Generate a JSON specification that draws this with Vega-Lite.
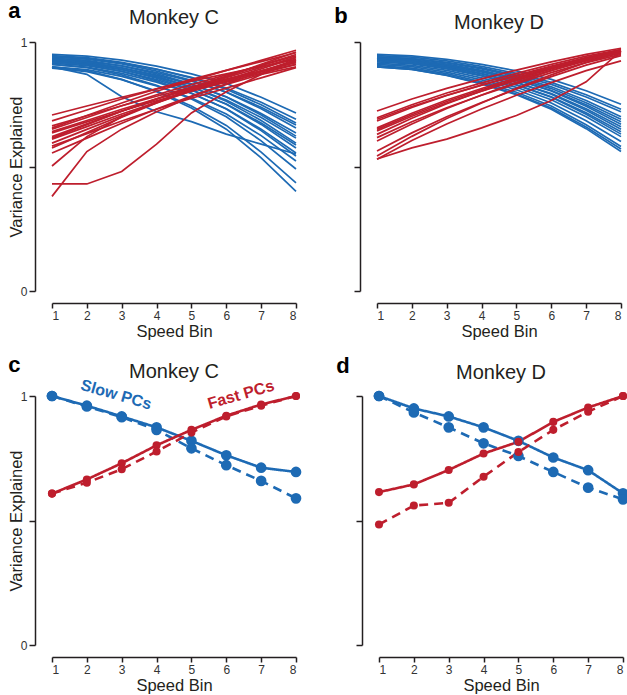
{
"$schema":"https://vega.github.io/schema/vega-lite/v6.json",
"padding":{"left":8,"top":0,"right":0,"bottom":0},
"config":{
 "font":"Liberation Sans",
 "view":{"stroke":null},
 "axis":{"grid":false,"domainColor":"#231f20","domainWidth":1.5,"tickColor":"#231f20","tickWidth":1.5,"tickSize":5,"labelFont":"Liberation Sans","labelFontSize":12,"labelColor":"#333333","titleFont":"Liberation Sans","titleFontSize":16.5,"titleFontWeight":"normal","titleColor":"#231f20"},
 "title":{"font":"Liberation Sans","fontSize":20,"fontWeight":"normal","color":"#231f20"}
},
"datasets":{
"A":[
{"l":"b1","g":"Slow","x":1,"v":0.95},{"l":"b1","g":"Slow","x":2,"v":0.943},{"l":"b1","g":"Slow","x":3,"v":0.927},{"l":"b1","g":"Slow","x":4,"v":0.903},{"l":"b1","g":"Slow","x":5,"v":0.872},{"l":"b1","g":"Slow","x":6,"v":0.833},{"l":"b1","g":"Slow","x":7,"v":0.778},{"l":"b1","g":"Slow","x":8,"v":0.715},
{"l":"b2","g":"Slow","x":1,"v":0.94},{"l":"b2","g":"Slow","x":2,"v":0.933},{"l":"b2","g":"Slow","x":3,"v":0.915},{"l":"b2","g":"Slow","x":4,"v":0.89},{"l":"b2","g":"Slow","x":5,"v":0.858},{"l":"b2","g":"Slow","x":6,"v":0.815},{"l":"b2","g":"Slow","x":7,"v":0.758},{"l":"b2","g":"Slow","x":8,"v":0.69},
{"l":"b3","g":"Slow","x":1,"v":0.945},{"l":"b3","g":"Slow","x":2,"v":0.937},{"l":"b3","g":"Slow","x":3,"v":0.918},{"l":"b3","g":"Slow","x":4,"v":0.891},{"l":"b3","g":"Slow","x":5,"v":0.856},{"l":"b3","g":"Slow","x":6,"v":0.81},{"l":"b3","g":"Slow","x":7,"v":0.748},{"l":"b3","g":"Slow","x":8,"v":0.675},
{"l":"b4","g":"Slow","x":1,"v":0.93},{"l":"b4","g":"Slow","x":2,"v":0.922},{"l":"b4","g":"Slow","x":3,"v":0.904},{"l":"b4","g":"Slow","x":4,"v":0.877},{"l":"b4","g":"Slow","x":5,"v":0.843},{"l":"b4","g":"Slow","x":6,"v":0.799},{"l":"b4","g":"Slow","x":7,"v":0.738},{"l":"b4","g":"Slow","x":8,"v":0.667},
{"l":"b5","g":"Slow","x":1,"v":0.94},{"l":"b5","g":"Slow","x":2,"v":0.931},{"l":"b5","g":"Slow","x":3,"v":0.912},{"l":"b5","g":"Slow","x":4,"v":0.883},{"l":"b5","g":"Slow","x":5,"v":0.846},{"l":"b5","g":"Slow","x":6,"v":0.798},{"l":"b5","g":"Slow","x":7,"v":0.732},{"l":"b5","g":"Slow","x":8,"v":0.655},
{"l":"b6","g":"Slow","x":1,"v":0.925},{"l":"b6","g":"Slow","x":2,"v":0.916},{"l":"b6","g":"Slow","x":3,"v":0.896},{"l":"b6","g":"Slow","x":4,"v":0.867},{"l":"b6","g":"Slow","x":5,"v":0.829},{"l":"b6","g":"Slow","x":6,"v":0.78},{"l":"b6","g":"Slow","x":7,"v":0.713},{"l":"b6","g":"Slow","x":8,"v":0.635},
{"l":"b7","g":"Slow","x":1,"v":0.935},{"l":"b7","g":"Slow","x":2,"v":0.926},{"l":"b7","g":"Slow","x":3,"v":0.904},{"l":"b7","g":"Slow","x":4,"v":0.872},{"l":"b7","g":"Slow","x":5,"v":0.832},{"l":"b7","g":"Slow","x":6,"v":0.779},{"l":"b7","g":"Slow","x":7,"v":0.707},{"l":"b7","g":"Slow","x":8,"v":0.622},
{"l":"b8","g":"Slow","x":1,"v":0.92},{"l":"b8","g":"Slow","x":2,"v":0.911},{"l":"b8","g":"Slow","x":3,"v":0.889},{"l":"b8","g":"Slow","x":4,"v":0.859},{"l":"b8","g":"Slow","x":5,"v":0.819},{"l":"b8","g":"Slow","x":6,"v":0.767},{"l":"b8","g":"Slow","x":7,"v":0.697},{"l":"b8","g":"Slow","x":8,"v":0.614},
{"l":"b9","g":"Slow","x":1,"v":0.93},{"l":"b9","g":"Slow","x":2,"v":0.92},{"l":"b9","g":"Slow","x":3,"v":0.896},{"l":"b9","g":"Slow","x":4,"v":0.863},{"l":"b9","g":"Slow","x":5,"v":0.819},{"l":"b9","g":"Slow","x":6,"v":0.762},{"l":"b9","g":"Slow","x":7,"v":0.685},{"l":"b9","g":"Slow","x":8,"v":0.594},
{"l":"b10","g":"Slow","x":1,"v":0.915},{"l":"b10","g":"Slow","x":2,"v":0.905},{"l":"b10","g":"Slow","x":3,"v":0.882},{"l":"b10","g":"Slow","x":4,"v":0.849},{"l":"b10","g":"Slow","x":5,"v":0.806},{"l":"b10","g":"Slow","x":6,"v":0.751},{"l":"b10","g":"Slow","x":7,"v":0.675},{"l":"b10","g":"Slow","x":8,"v":0.586},
{"l":"b11","g":"Slow","x":1,"v":0.925},{"l":"b11","g":"Slow","x":2,"v":0.914},{"l":"b11","g":"Slow","x":3,"v":0.89},{"l":"b11","g":"Slow","x":4,"v":0.855},{"l":"b11","g":"Slow","x":5,"v":0.809},{"l":"b11","g":"Slow","x":6,"v":0.75},{"l":"b11","g":"Slow","x":7,"v":0.669},{"l":"b11","g":"Slow","x":8,"v":0.574},
{"l":"b12","g":"Slow","x":1,"v":0.91},{"l":"b12","g":"Slow","x":2,"v":0.899},{"l":"b12","g":"Slow","x":3,"v":0.874},{"l":"b12","g":"Slow","x":4,"v":0.839},{"l":"b12","g":"Slow","x":5,"v":0.793},{"l":"b12","g":"Slow","x":6,"v":0.732},{"l":"b12","g":"Slow","x":7,"v":0.65},{"l":"b12","g":"Slow","x":8,"v":0.554},
{"l":"b13","g":"Slow","x":1,"v":0.92},{"l":"b13","g":"Slow","x":2,"v":0.909},{"l":"b13","g":"Slow","x":3,"v":0.882},{"l":"b13","g":"Slow","x":4,"v":0.844},{"l":"b13","g":"Slow","x":5,"v":0.795},{"l":"b13","g":"Slow","x":6,"v":0.731},{"l":"b13","g":"Slow","x":7,"v":0.644},{"l":"b13","g":"Slow","x":8,"v":0.542},
{"l":"b14","g":"Slow","x":1,"v":0.9},{"l":"b14","g":"Slow","x":2,"v":0.889},{"l":"b14","g":"Slow","x":3,"v":0.862},{"l":"b14","g":"Slow","x":4,"v":0.824},{"l":"b14","g":"Slow","x":5,"v":0.775},{"l":"b14","g":"Slow","x":6,"v":0.711},{"l":"b14","g":"Slow","x":7,"v":0.624},{"l":"b14","g":"Slow","x":8,"v":0.522},
{"l":"b15","g":"Slow","x":1,"v":0.91},{"l":"b15","g":"Slow","x":2,"v":0.897},{"l":"b15","g":"Slow","x":3,"v":0.868},{"l":"b15","g":"Slow","x":4,"v":0.826},{"l":"b15","g":"Slow","x":5,"v":0.771},{"l":"b15","g":"Slow","x":6,"v":0.7},{"l":"b15","g":"Slow","x":7,"v":0.603},{"l":"b15","g":"Slow","x":8,"v":0.49},
{"l":"b16","g":"Slow","x":1,"v":0.895},{"l":"b16","g":"Slow","x":2,"v":0.881},{"l":"b16","g":"Slow","x":3,"v":0.849},{"l":"b16","g":"Slow","x":4,"v":0.803},{"l":"b16","g":"Slow","x":5,"v":0.743},{"l":"b16","g":"Slow","x":6,"v":0.665},{"l":"b16","g":"Slow","x":7,"v":0.558},{"l":"b16","g":"Slow","x":8,"v":0.434},
{"l":"b17","g":"Slow","x":1,"v":0.9},{"l":"b17","g":"Slow","x":2,"v":0.885},{"l":"b17","g":"Slow","x":3,"v":0.85},{"l":"b17","g":"Slow","x":4,"v":0.8},{"l":"b17","g":"Slow","x":5,"v":0.735},{"l":"b17","g":"Slow","x":6,"v":0.65},{"l":"b17","g":"Slow","x":7,"v":0.535},{"l":"b17","g":"Slow","x":8,"v":0.4},
{"l":"b18","g":"Slow","x":1,"v":0.9},{"l":"b18","g":"Slow","x":2,"v":0.87},{"l":"b18","g":"Slow","x":3,"v":0.78},{"l":"b18","g":"Slow","x":4,"v":0.72},{"l":"b18","g":"Slow","x":5,"v":0.68},{"l":"b18","g":"Slow","x":6,"v":0.63},{"l":"b18","g":"Slow","x":7,"v":0.59},{"l":"b18","g":"Slow","x":8,"v":0.55},
{"l":"r1","g":"Fast","x":1,"v":0.707},{"l":"r1","g":"Fast","x":2,"v":0.743},{"l":"r1","g":"Fast","x":3,"v":0.778},{"l":"r1","g":"Fast","x":4,"v":0.812},{"l":"r1","g":"Fast","x":5,"v":0.843},{"l":"r1","g":"Fast","x":6,"v":0.872},{"l":"r1","g":"Fast","x":7,"v":0.901},{"l":"r1","g":"Fast","x":8,"v":0.93},
{"l":"r2","g":"Fast","x":1,"v":0.683},{"l":"r2","g":"Fast","x":2,"v":0.727},{"l":"r2","g":"Fast","x":3,"v":0.771},{"l":"r2","g":"Fast","x":4,"v":0.812},{"l":"r2","g":"Fast","x":5,"v":0.85},{"l":"r2","g":"Fast","x":6,"v":0.886},{"l":"r2","g":"Fast","x":7,"v":0.921},{"l":"r2","g":"Fast","x":8,"v":0.957},
{"l":"r3","g":"Fast","x":1,"v":0.663},{"l":"r3","g":"Fast","x":2,"v":0.704},{"l":"r3","g":"Fast","x":3,"v":0.744},{"l":"r3","g":"Fast","x":4,"v":0.782},{"l":"r3","g":"Fast","x":5,"v":0.818},{"l":"r3","g":"Fast","x":6,"v":0.851},{"l":"r3","g":"Fast","x":7,"v":0.884},{"l":"r3","g":"Fast","x":8,"v":0.917},
{"l":"r4","g":"Fast","x":1,"v":0.655},{"l":"r4","g":"Fast","x":2,"v":0.705},{"l":"r4","g":"Fast","x":3,"v":0.755},{"l":"r4","g":"Fast","x":4,"v":0.802},{"l":"r4","g":"Fast","x":5,"v":0.845},{"l":"r4","g":"Fast","x":6,"v":0.886},{"l":"r4","g":"Fast","x":7,"v":0.926},{"l":"r4","g":"Fast","x":8,"v":0.967},
{"l":"r5","g":"Fast","x":1,"v":0.65},{"l":"r5","g":"Fast","x":2,"v":0.697},{"l":"r5","g":"Fast","x":3,"v":0.744},{"l":"r5","g":"Fast","x":4,"v":0.788},{"l":"r5","g":"Fast","x":5,"v":0.829},{"l":"r5","g":"Fast","x":6,"v":0.868},{"l":"r5","g":"Fast","x":7,"v":0.906},{"l":"r5","g":"Fast","x":8,"v":0.944},
{"l":"r6","g":"Fast","x":1,"v":0.635},{"l":"r6","g":"Fast","x":2,"v":0.679},{"l":"r6","g":"Fast","x":3,"v":0.723},{"l":"r6","g":"Fast","x":4,"v":0.764},{"l":"r6","g":"Fast","x":5,"v":0.803},{"l":"r6","g":"Fast","x":6,"v":0.839},{"l":"r6","g":"Fast","x":7,"v":0.874},{"l":"r6","g":"Fast","x":8,"v":0.91},
{"l":"r7","g":"Fast","x":1,"v":0.614},{"l":"r7","g":"Fast","x":2,"v":0.668},{"l":"r7","g":"Fast","x":3,"v":0.722},{"l":"r7","g":"Fast","x":4,"v":0.772},{"l":"r7","g":"Fast","x":5,"v":0.819},{"l":"r7","g":"Fast","x":6,"v":0.863},{"l":"r7","g":"Fast","x":7,"v":0.906},{"l":"r7","g":"Fast","x":8,"v":0.95},
{"l":"r8","g":"Fast","x":1,"v":0.61},{"l":"r8","g":"Fast","x":2,"v":0.66},{"l":"r8","g":"Fast","x":3,"v":0.711},{"l":"r8","g":"Fast","x":4,"v":0.758},{"l":"r8","g":"Fast","x":5,"v":0.802},{"l":"r8","g":"Fast","x":6,"v":0.842},{"l":"r8","g":"Fast","x":7,"v":0.883},{"l":"r8","g":"Fast","x":8,"v":0.924},
{"l":"r9","g":"Fast","x":1,"v":0.594},{"l":"r9","g":"Fast","x":2,"v":0.649},{"l":"r9","g":"Fast","x":3,"v":0.704},{"l":"r9","g":"Fast","x":4,"v":0.755},{"l":"r9","g":"Fast","x":5,"v":0.803},{"l":"r9","g":"Fast","x":6,"v":0.848},{"l":"r9","g":"Fast","x":7,"v":0.892},{"l":"r9","g":"Fast","x":8,"v":0.937},
{"l":"r10","g":"Fast","x":1,"v":0.582},{"l":"r10","g":"Fast","x":2,"v":0.632},{"l":"r10","g":"Fast","x":3,"v":0.683},{"l":"r10","g":"Fast","x":4,"v":0.73},{"l":"r10","g":"Fast","x":5,"v":0.774},{"l":"r10","g":"Fast","x":6,"v":0.815},{"l":"r10","g":"Fast","x":7,"v":0.856},{"l":"r10","g":"Fast","x":8,"v":0.897},
{"l":"r11","g":"Fast","x":1,"v":0.574},{"l":"r11","g":"Fast","x":2,"v":0.636},{"l":"r11","g":"Fast","x":3,"v":0.698},{"l":"r11","g":"Fast","x":4,"v":0.755},{"l":"r11","g":"Fast","x":5,"v":0.809},{"l":"r11","g":"Fast","x":6,"v":0.86},{"l":"r11","g":"Fast","x":7,"v":0.91},{"l":"r11","g":"Fast","x":8,"v":0.96},
{"l":"r12","g":"Fast","x":1,"v":0.554},{"l":"r12","g":"Fast","x":2,"v":0.614},{"l":"r12","g":"Fast","x":3,"v":0.674},{"l":"r12","g":"Fast","x":4,"v":0.731},{"l":"r12","g":"Fast","x":5,"v":0.783},{"l":"r12","g":"Fast","x":6,"v":0.832},{"l":"r12","g":"Fast","x":7,"v":0.881},{"l":"r12","g":"Fast","x":8,"v":0.93},
{"l":"r13","g":"Fast","x":1,"v":0.502},{"l":"r13","g":"Fast","x":2,"v":0.62},{"l":"r13","g":"Fast","x":3,"v":0.7},{"l":"r13","g":"Fast","x":4,"v":0.76},{"l":"r13","g":"Fast","x":5,"v":0.81},{"l":"r13","g":"Fast","x":6,"v":0.85},{"l":"r13","g":"Fast","x":7,"v":0.88},{"l":"r13","g":"Fast","x":8,"v":0.91},
{"l":"r14","g":"Fast","x":1,"v":0.43},{"l":"r14","g":"Fast","x":2,"v":0.43},{"l":"r14","g":"Fast","x":3,"v":0.48},{"l":"r14","g":"Fast","x":4,"v":0.59},{"l":"r14","g":"Fast","x":5,"v":0.715},{"l":"r14","g":"Fast","x":6,"v":0.8},{"l":"r14","g":"Fast","x":7,"v":0.87},{"l":"r14","g":"Fast","x":8,"v":0.93},
{"l":"r15","g":"Fast","x":1,"v":0.38},{"l":"r15","g":"Fast","x":2,"v":0.56},{"l":"r15","g":"Fast","x":3,"v":0.65},{"l":"r15","g":"Fast","x":4,"v":0.72},{"l":"r15","g":"Fast","x":5,"v":0.78},{"l":"r15","g":"Fast","x":6,"v":0.83},{"l":"r15","g":"Fast","x":7,"v":0.87},{"l":"r15","g":"Fast","x":8,"v":0.9},
{"l":"r16","g":"Fast","x":1,"v":0.62},{"l":"r16","g":"Fast","x":2,"v":0.671},{"l":"r16","g":"Fast","x":3,"v":0.722},{"l":"r16","g":"Fast","x":4,"v":0.77},{"l":"r16","g":"Fast","x":5,"v":0.815},{"l":"r16","g":"Fast","x":6,"v":0.857},{"l":"r16","g":"Fast","x":7,"v":0.898},{"l":"r16","g":"Fast","x":8,"v":0.94},
{"l":"r17","g":"Fast","x":1,"v":0.64},{"l":"r17","g":"Fast","x":2,"v":0.685},{"l":"r17","g":"Fast","x":3,"v":0.73},{"l":"r17","g":"Fast","x":4,"v":0.772},{"l":"r17","g":"Fast","x":5,"v":0.811},{"l":"r17","g":"Fast","x":6,"v":0.847},{"l":"r17","g":"Fast","x":7,"v":0.884},{"l":"r17","g":"Fast","x":8,"v":0.92}
],
"B":[
{"l":"b1","g":"Slow","x":1,"v":0.95},{"l":"b1","g":"Slow","x":2,"v":0.944},{"l":"b1","g":"Slow","x":3,"v":0.93},{"l":"b1","g":"Slow","x":4,"v":0.91},{"l":"b1","g":"Slow","x":5,"v":0.884},{"l":"b1","g":"Slow","x":6,"v":0.85},{"l":"b1","g":"Slow","x":7,"v":0.804},{"l":"b1","g":"Slow","x":8,"v":0.75},
{"l":"b2","g":"Slow","x":1,"v":0.945},{"l":"b2","g":"Slow","x":2,"v":0.939},{"l":"b2","g":"Slow","x":3,"v":0.924},{"l":"b2","g":"Slow","x":4,"v":0.902},{"l":"b2","g":"Slow","x":5,"v":0.874},{"l":"b2","g":"Slow","x":6,"v":0.838},{"l":"b2","g":"Slow","x":7,"v":0.788},{"l":"b2","g":"Slow","x":8,"v":0.73},
{"l":"b3","g":"Slow","x":1,"v":0.94},{"l":"b3","g":"Slow","x":2,"v":0.933},{"l":"b3","g":"Slow","x":3,"v":0.918},{"l":"b3","g":"Slow","x":4,"v":0.896},{"l":"b3","g":"Slow","x":5,"v":0.867},{"l":"b3","g":"Slow","x":6,"v":0.83},{"l":"b3","g":"Slow","x":7,"v":0.779},{"l":"b3","g":"Slow","x":8,"v":0.72},
{"l":"b4","g":"Slow","x":1,"v":0.94},{"l":"b4","g":"Slow","x":2,"v":0.933},{"l":"b4","g":"Slow","x":3,"v":0.916},{"l":"b4","g":"Slow","x":4,"v":0.892},{"l":"b4","g":"Slow","x":5,"v":0.861},{"l":"b4","g":"Slow","x":6,"v":0.82},{"l":"b4","g":"Slow","x":7,"v":0.765},{"l":"b4","g":"Slow","x":8,"v":0.7},
{"l":"b5","g":"Slow","x":1,"v":0.935},{"l":"b5","g":"Slow","x":2,"v":0.928},{"l":"b5","g":"Slow","x":3,"v":0.911},{"l":"b5","g":"Slow","x":4,"v":0.886},{"l":"b5","g":"Slow","x":5,"v":0.854},{"l":"b5","g":"Slow","x":6,"v":0.813},{"l":"b5","g":"Slow","x":7,"v":0.756},{"l":"b5","g":"Slow","x":8,"v":0.69},
{"l":"b6","g":"Slow","x":1,"v":0.93},{"l":"b6","g":"Slow","x":2,"v":0.923},{"l":"b6","g":"Slow","x":3,"v":0.905},{"l":"b6","g":"Slow","x":4,"v":0.88},{"l":"b6","g":"Slow","x":5,"v":0.848},{"l":"b6","g":"Slow","x":6,"v":0.805},{"l":"b6","g":"Slow","x":7,"v":0.748},{"l":"b6","g":"Slow","x":8,"v":0.68},
{"l":"b7","g":"Slow","x":1,"v":0.935},{"l":"b7","g":"Slow","x":2,"v":0.927},{"l":"b7","g":"Slow","x":3,"v":0.909},{"l":"b7","g":"Slow","x":4,"v":0.882},{"l":"b7","g":"Slow","x":5,"v":0.848},{"l":"b7","g":"Slow","x":6,"v":0.803},{"l":"b7","g":"Slow","x":7,"v":0.742},{"l":"b7","g":"Slow","x":8,"v":0.67},
{"l":"b8","g":"Slow","x":1,"v":0.925},{"l":"b8","g":"Slow","x":2,"v":0.917},{"l":"b8","g":"Slow","x":3,"v":0.899},{"l":"b8","g":"Slow","x":4,"v":0.872},{"l":"b8","g":"Slow","x":5,"v":0.838},{"l":"b8","g":"Slow","x":6,"v":0.793},{"l":"b8","g":"Slow","x":7,"v":0.732},{"l":"b8","g":"Slow","x":8,"v":0.66},
{"l":"b9","g":"Slow","x":1,"v":0.93},{"l":"b9","g":"Slow","x":2,"v":0.922},{"l":"b9","g":"Slow","x":3,"v":0.902},{"l":"b9","g":"Slow","x":4,"v":0.874},{"l":"b9","g":"Slow","x":5,"v":0.838},{"l":"b9","g":"Slow","x":6,"v":0.79},{"l":"b9","g":"Slow","x":7,"v":0.726},{"l":"b9","g":"Slow","x":8,"v":0.65},
{"l":"b10","g":"Slow","x":1,"v":0.92},{"l":"b10","g":"Slow","x":2,"v":0.912},{"l":"b10","g":"Slow","x":3,"v":0.892},{"l":"b10","g":"Slow","x":4,"v":0.864},{"l":"b10","g":"Slow","x":5,"v":0.828},{"l":"b10","g":"Slow","x":6,"v":0.78},{"l":"b10","g":"Slow","x":7,"v":0.716},{"l":"b10","g":"Slow","x":8,"v":0.64},
{"l":"b11","g":"Slow","x":1,"v":0.925},{"l":"b11","g":"Slow","x":2,"v":0.916},{"l":"b11","g":"Slow","x":3,"v":0.896},{"l":"b11","g":"Slow","x":4,"v":0.866},{"l":"b11","g":"Slow","x":5,"v":0.828},{"l":"b11","g":"Slow","x":6,"v":0.778},{"l":"b11","g":"Slow","x":7,"v":0.71},{"l":"b11","g":"Slow","x":8,"v":0.63},
{"l":"b12","g":"Slow","x":1,"v":0.915},{"l":"b12","g":"Slow","x":2,"v":0.906},{"l":"b12","g":"Slow","x":3,"v":0.886},{"l":"b12","g":"Slow","x":4,"v":0.856},{"l":"b12","g":"Slow","x":5,"v":0.818},{"l":"b12","g":"Slow","x":6,"v":0.768},{"l":"b12","g":"Slow","x":7,"v":0.7},{"l":"b12","g":"Slow","x":8,"v":0.62},
{"l":"b13","g":"Slow","x":1,"v":0.91},{"l":"b13","g":"Slow","x":2,"v":0.901},{"l":"b13","g":"Slow","x":3,"v":0.879},{"l":"b13","g":"Slow","x":4,"v":0.848},{"l":"b13","g":"Slow","x":5,"v":0.808},{"l":"b13","g":"Slow","x":6,"v":0.755},{"l":"b13","g":"Slow","x":7,"v":0.684},{"l":"b13","g":"Slow","x":8,"v":0.6},
{"l":"b14","g":"Slow","x":1,"v":0.905},{"l":"b14","g":"Slow","x":2,"v":0.895},{"l":"b14","g":"Slow","x":3,"v":0.873},{"l":"b14","g":"Slow","x":4,"v":0.84},{"l":"b14","g":"Slow","x":5,"v":0.798},{"l":"b14","g":"Slow","x":6,"v":0.743},{"l":"b14","g":"Slow","x":7,"v":0.668},{"l":"b14","g":"Slow","x":8,"v":0.58},
{"l":"b15","g":"Slow","x":1,"v":0.9},{"l":"b15","g":"Slow","x":2,"v":0.89},{"l":"b15","g":"Slow","x":3,"v":0.867},{"l":"b15","g":"Slow","x":4,"v":0.834},{"l":"b15","g":"Slow","x":5,"v":0.791},{"l":"b15","g":"Slow","x":6,"v":0.735},{"l":"b15","g":"Slow","x":7,"v":0.659},{"l":"b15","g":"Slow","x":8,"v":0.57},
{"l":"b16","g":"Slow","x":1,"v":0.9},{"l":"b16","g":"Slow","x":2,"v":0.89},{"l":"b16","g":"Slow","x":3,"v":0.866},{"l":"b16","g":"Slow","x":4,"v":0.832},{"l":"b16","g":"Slow","x":5,"v":0.788},{"l":"b16","g":"Slow","x":6,"v":0.73},{"l":"b16","g":"Slow","x":7,"v":0.652},{"l":"b16","g":"Slow","x":8,"v":0.56},
{"l":"r1","g":"Fast","x":1,"v":0.723},{"l":"r1","g":"Fast","x":2,"v":0.771},{"l":"r1","g":"Fast","x":3,"v":0.814},{"l":"r1","g":"Fast","x":4,"v":0.852},{"l":"r1","g":"Fast","x":5,"v":0.887},{"l":"r1","g":"Fast","x":6,"v":0.92},{"l":"r1","g":"Fast","x":7,"v":0.95},{"l":"r1","g":"Fast","x":8,"v":0.975},
{"l":"r2","g":"Fast","x":1,"v":0.696},{"l":"r2","g":"Fast","x":2,"v":0.748},{"l":"r2","g":"Fast","x":3,"v":0.795},{"l":"r2","g":"Fast","x":4,"v":0.836},{"l":"r2","g":"Fast","x":5,"v":0.874},{"l":"r2","g":"Fast","x":6,"v":0.91},{"l":"r2","g":"Fast","x":7,"v":0.943},{"l":"r2","g":"Fast","x":8,"v":0.97},
{"l":"r3","g":"Fast","x":1,"v":0.683},{"l":"r3","g":"Fast","x":2,"v":0.737},{"l":"r3","g":"Fast","x":3,"v":0.785},{"l":"r3","g":"Fast","x":4,"v":0.827},{"l":"r3","g":"Fast","x":5,"v":0.866},{"l":"r3","g":"Fast","x":6,"v":0.903},{"l":"r3","g":"Fast","x":7,"v":0.937},{"l":"r3","g":"Fast","x":8,"v":0.965},
{"l":"r4","g":"Fast","x":1,"v":0.649},{"l":"r4","g":"Fast","x":2,"v":0.708},{"l":"r4","g":"Fast","x":3,"v":0.761},{"l":"r4","g":"Fast","x":4,"v":0.808},{"l":"r4","g":"Fast","x":5,"v":0.851},{"l":"r4","g":"Fast","x":6,"v":0.892},{"l":"r4","g":"Fast","x":7,"v":0.929},{"l":"r4","g":"Fast","x":8,"v":0.96},
{"l":"r5","g":"Fast","x":1,"v":0.643},{"l":"r5","g":"Fast","x":2,"v":0.702},{"l":"r5","g":"Fast","x":3,"v":0.755},{"l":"r5","g":"Fast","x":4,"v":0.802},{"l":"r5","g":"Fast","x":5,"v":0.846},{"l":"r5","g":"Fast","x":6,"v":0.886},{"l":"r5","g":"Fast","x":7,"v":0.924},{"l":"r5","g":"Fast","x":8,"v":0.955},
{"l":"r6","g":"Fast","x":1,"v":0.629},{"l":"r6","g":"Fast","x":2,"v":0.694},{"l":"r6","g":"Fast","x":3,"v":0.752},{"l":"r6","g":"Fast","x":4,"v":0.803},{"l":"r6","g":"Fast","x":5,"v":0.851},{"l":"r6","g":"Fast","x":6,"v":0.895},{"l":"r6","g":"Fast","x":7,"v":0.936},{"l":"r6","g":"Fast","x":8,"v":0.97},
{"l":"r7","g":"Fast","x":1,"v":0.616},{"l":"r7","g":"Fast","x":2,"v":0.68},{"l":"r7","g":"Fast","x":3,"v":0.736},{"l":"r7","g":"Fast","x":4,"v":0.786},{"l":"r7","g":"Fast","x":5,"v":0.833},{"l":"r7","g":"Fast","x":6,"v":0.877},{"l":"r7","g":"Fast","x":7,"v":0.917},{"l":"r7","g":"Fast","x":8,"v":0.95},
{"l":"r8","g":"Fast","x":1,"v":0.602},{"l":"r8","g":"Fast","x":2,"v":0.671},{"l":"r8","g":"Fast","x":3,"v":0.733},{"l":"r8","g":"Fast","x":4,"v":0.787},{"l":"r8","g":"Fast","x":5,"v":0.838},{"l":"r8","g":"Fast","x":6,"v":0.885},{"l":"r8","g":"Fast","x":7,"v":0.929},{"l":"r8","g":"Fast","x":8,"v":0.965},
{"l":"r9","g":"Fast","x":1,"v":0.562},{"l":"r9","g":"Fast","x":2,"v":0.635},{"l":"r9","g":"Fast","x":3,"v":0.7},{"l":"r9","g":"Fast","x":4,"v":0.757},{"l":"r9","g":"Fast","x":5,"v":0.811},{"l":"r9","g":"Fast","x":6,"v":0.861},{"l":"r9","g":"Fast","x":7,"v":0.907},{"l":"r9","g":"Fast","x":8,"v":0.945},
{"l":"r10","g":"Fast","x":1,"v":0.542},{"l":"r10","g":"Fast","x":2,"v":0.621},{"l":"r10","g":"Fast","x":3,"v":0.693},{"l":"r10","g":"Fast","x":4,"v":0.755},{"l":"r10","g":"Fast","x":5,"v":0.814},{"l":"r10","g":"Fast","x":6,"v":0.868},{"l":"r10","g":"Fast","x":7,"v":0.918},{"l":"r10","g":"Fast","x":8,"v":0.96},
{"l":"r11","g":"Fast","x":1,"v":0.529},{"l":"r11","g":"Fast","x":2,"v":0.604},{"l":"r11","g":"Fast","x":3,"v":0.671},{"l":"r11","g":"Fast","x":4,"v":0.731},{"l":"r11","g":"Fast","x":5,"v":0.786},{"l":"r11","g":"Fast","x":6,"v":0.837},{"l":"r11","g":"Fast","x":7,"v":0.885},{"l":"r11","g":"Fast","x":8,"v":0.924},
{"l":"r12","g":"Fast","x":1,"v":0.53},{"l":"r12","g":"Fast","x":2,"v":0.575},{"l":"r12","g":"Fast","x":3,"v":0.61},{"l":"r12","g":"Fast","x":4,"v":0.655},{"l":"r12","g":"Fast","x":5,"v":0.705},{"l":"r12","g":"Fast","x":6,"v":0.765},{"l":"r12","g":"Fast","x":7,"v":0.84},{"l":"r12","g":"Fast","x":8,"v":0.965},
{"l":"r13","g":"Fast","x":1,"v":0.655},{"l":"r13","g":"Fast","x":2,"v":0.714},{"l":"r13","g":"Fast","x":3,"v":0.767},{"l":"r13","g":"Fast","x":4,"v":0.813},{"l":"r13","g":"Fast","x":5,"v":0.857},{"l":"r13","g":"Fast","x":6,"v":0.897},{"l":"r13","g":"Fast","x":7,"v":0.934},{"l":"r13","g":"Fast","x":8,"v":0.965},
{"l":"r14","g":"Fast","x":1,"v":0.69},{"l":"r14","g":"Fast","x":2,"v":0.741},{"l":"r14","g":"Fast","x":3,"v":0.786},{"l":"r14","g":"Fast","x":4,"v":0.827},{"l":"r14","g":"Fast","x":5,"v":0.864},{"l":"r14","g":"Fast","x":6,"v":0.899},{"l":"r14","g":"Fast","x":7,"v":0.931},{"l":"r14","g":"Fast","x":8,"v":0.958}
],
"C":[
{"g":"Slow","t":"solid","x":1,"v":1.0},{"g":"Slow","t":"solid","x":2,"v":0.961},{"g":"Slow","t":"solid","x":3,"v":0.918},{"g":"Slow","t":"solid","x":4,"v":0.874},{"g":"Slow","t":"solid","x":5,"v":0.82},{"g":"Slow","t":"solid","x":6,"v":0.762},{"g":"Slow","t":"solid","x":7,"v":0.712},{"g":"Slow","t":"solid","x":8,"v":0.695},
{"g":"Slow","t":"dashed","x":1,"v":1.0},{"g":"Slow","t":"dashed","x":2,"v":0.958},{"g":"Slow","t":"dashed","x":3,"v":0.915},{"g":"Slow","t":"dashed","x":4,"v":0.864},{"g":"Slow","t":"dashed","x":5,"v":0.79},{"g":"Slow","t":"dashed","x":6,"v":0.722},{"g":"Slow","t":"dashed","x":7,"v":0.659},{"g":"Slow","t":"dashed","x":8,"v":0.589},
{"g":"Fast","t":"solid","x":1,"v":0.608},{"g":"Fast","t":"solid","x":2,"v":0.665},{"g":"Fast","t":"solid","x":3,"v":0.73},{"g":"Fast","t":"solid","x":4,"v":0.802},{"g":"Fast","t":"solid","x":5,"v":0.864},{"g":"Fast","t":"solid","x":6,"v":0.921},{"g":"Fast","t":"solid","x":7,"v":0.966},{"g":"Fast","t":"solid","x":8,"v":1.0},
{"g":"Fast","t":"dashed","x":1,"v":0.608},{"g":"Fast","t":"dashed","x":2,"v":0.652},{"g":"Fast","t":"dashed","x":3,"v":0.706},{"g":"Fast","t":"dashed","x":4,"v":0.777},{"g":"Fast","t":"dashed","x":5,"v":0.853},{"g":"Fast","t":"dashed","x":6,"v":0.918},{"g":"Fast","t":"dashed","x":7,"v":0.961},{"g":"Fast","t":"dashed","x":8,"v":1.0}
],
"D":[
{"g":"Slow","t":"solid","x":1,"v":1.0},{"g":"Slow","t":"solid","x":2,"v":0.95},{"g":"Slow","t":"solid","x":3,"v":0.918},{"g":"Slow","t":"solid","x":4,"v":0.874},{"g":"Slow","t":"solid","x":5,"v":0.82},{"g":"Slow","t":"solid","x":6,"v":0.753},{"g":"Slow","t":"solid","x":7,"v":0.702},{"g":"Slow","t":"solid","x":8,"v":0.609},
{"g":"Slow","t":"dashed","x":1,"v":1.0},{"g":"Slow","t":"dashed","x":2,"v":0.934},{"g":"Slow","t":"dashed","x":3,"v":0.874},{"g":"Slow","t":"dashed","x":4,"v":0.81},{"g":"Slow","t":"dashed","x":5,"v":0.759},{"g":"Slow","t":"dashed","x":6,"v":0.695},{"g":"Slow","t":"dashed","x":7,"v":0.632},{"g":"Slow","t":"dashed","x":8,"v":0.585},
{"g":"Fast","t":"solid","x":1,"v":0.614},{"g":"Fast","t":"solid","x":2,"v":0.645},{"g":"Fast","t":"solid","x":3,"v":0.703},{"g":"Fast","t":"solid","x":4,"v":0.769},{"g":"Fast","t":"solid","x":5,"v":0.816},{"g":"Fast","t":"solid","x":6,"v":0.896},{"g":"Fast","t":"solid","x":7,"v":0.954},{"g":"Fast","t":"solid","x":8,"v":1.0},
{"g":"Fast","t":"dashed","x":1,"v":0.484},{"g":"Fast","t":"dashed","x":2,"v":0.56},{"g":"Fast","t":"dashed","x":3,"v":0.571},{"g":"Fast","t":"dashed","x":4,"v":0.676},{"g":"Fast","t":"dashed","x":5,"v":0.775},{"g":"Fast","t":"dashed","x":6,"v":0.864},{"g":"Fast","t":"dashed","x":7,"v":0.937},{"g":"Fast","t":"dashed","x":8,"v":1.0}
],
"L":[
{"g":"Slow","x":2.84,"v":1.005,"txt":"Slow PCs","a":16},
{"g":"Fast","x":6.42,"v":1.005,"txt":"Fast PCs","a":-16}
]
},
"spacing":14,
"vconcat":[
{"spacing":34,"hconcat":[
 {"title":{"text":"a","anchor":"start","fontSize":22,"fontWeight":"bold","color":"#000000","dy":19},
  "vconcat":[{
   "title":{"text":"Monkey C","offset":8},
   "width":244,"height":249,
   "data":{"name":"A"},
   "mark":{"type":"line","strokeWidth":1.7},
   "encoding":{
    "x":{"field":"x","type":"quantitative","scale":{"domain":[1,8]},"axis":{"values":[1,2,3,4,5,6,7,8],"offset":12,"labelAngle":0,"title":"Speed Bin","titlePadding":2,"format":"d"}},
    "y":{"field":"v","type":"quantitative","scale":{"domain":[0,1]},"axis":{"values":[0,0.5,1],"labelExpr":"datum.value == 1 ? '1' : datum.value == 0 ? '0' : ''","offset":17,"tickSize":6,"title":"Variance Explained","titlePadding":-4}},
    "color":{"field":"g","type":"nominal","scale":{"domain":["Slow","Fast"],"range":["#1d6ab4","#be1e2d"]},"legend":null},
    "detail":{"field":"l"},
    "order":{"field":"x"}
   }
  }]
 },
 {"title":{"text":"b","anchor":"start","fontSize":22,"fontWeight":"bold","color":"#000000","dy":19,"dx":-19},
  "vconcat":[{
   "title":{"text":"Monkey D","offset":8},
   "width":244,"height":249,
   "data":{"name":"B"},
   "mark":{"type":"line","strokeWidth":1.7},
   "encoding":{
    "x":{"field":"x","type":"quantitative","scale":{"domain":[1,8]},"axis":{"values":[1,2,3,4,5,6,7,8],"offset":12,"labelAngle":0,"title":"Speed Bin","titlePadding":2,"format":"d"}},
    "y":{"field":"v","type":"quantitative","scale":{"domain":[0,1]},"axis":{"values":[0,0.5,1],"labels":false,"offset":17,"tickSize":6,"title":null}},
    "color":{"field":"g","type":"nominal","scale":{"domain":["Slow","Fast"],"range":["#1d6ab4","#be1e2d"]},"legend":null},
    "detail":{"field":"l"},
    "order":{"field":"x"}
   }
  }]
 }
]},
{"spacing":34,"hconcat":[
 {"title":{"text":"c","anchor":"start","fontSize":22,"fontWeight":"bold","color":"#000000","dy":19},
  "vconcat":[{
   "title":{"text":"Monkey C","offset":-5},
   "width":244,"height":249,
   "encoding":{
    "x":{"field":"x","type":"quantitative","scale":{"domain":[1,8]},"axis":{"values":[1,2,3,4,5,6,7,8],"offset":12,"labelAngle":0,"title":"Speed Bin","titlePadding":2,"format":"d"}},
    "y":{"field":"v","type":"quantitative","scale":{"domain":[0,1]},"axis":{"values":[0,0.5,1],"labelExpr":"datum.value == 1 ? '1' : datum.value == 0 ? '0' : ''","offset":17,"tickSize":6,"title":"Variance Explained","titlePadding":-4}},
    "color":{"field":"g","type":"nominal","scale":{"domain":["Slow","Fast"],"range":["#1d6ab4","#be1e2d"]},"legend":null}
   },
   "layer":[
    {"data":{"name":"C"},"mark":{"type":"line","strokeWidth":2.6},"encoding":{"strokeDash":{"field":"t","type":"nominal","scale":{"domain":["solid","dashed"],"range":[[1,0],[9,6]]},"legend":null},"order":{"field":"x"}}},
    {"data":{"name":"C"},"mark":{"type":"circle","opacity":1},"encoding":{"size":{"field":"g","type":"nominal","scale":{"domain":["Slow","Fast"],"range":[115,65]},"legend":null}}},
    {"data":{"name":"L"},"mark":{"type":"text","fontWeight":"bold","fontSize":16,"font":"Liberation Sans"},"encoding":{"text":{"field":"txt"},"angle":{"field":"a","type":"quantitative","scale":null}}}
   ]
  }]
 },
 {"title":{"text":"d","anchor":"start","fontSize":22,"fontWeight":"bold","color":"#000000","dy":19,"dx":-19},
  "vconcat":[{
   "title":{"text":"Monkey D","offset":8},
   "width":244,"height":249,
   "encoding":{
    "x":{"field":"x","type":"quantitative","scale":{"domain":[1,8]},"axis":{"values":[1,2,3,4,5,6,7,8],"offset":12,"labelAngle":0,"title":"Speed Bin","titlePadding":2,"format":"d"}},
    "y":{"field":"v","type":"quantitative","scale":{"domain":[0,1]},"axis":{"values":[0,0.5,1],"labels":false,"offset":17,"tickSize":6,"title":null}},
    "color":{"field":"g","type":"nominal","scale":{"domain":["Slow","Fast"],"range":["#1d6ab4","#be1e2d"]},"legend":null}
   },
   "layer":[
    {"data":{"name":"D"},"mark":{"type":"line","strokeWidth":2.6},"encoding":{"strokeDash":{"field":"t","type":"nominal","scale":{"domain":["solid","dashed"],"range":[[1,0],[9,6]]},"legend":null},"order":{"field":"x"}}},
    {"data":{"name":"D"},"mark":{"type":"circle","opacity":1},"encoding":{"size":{"field":"g","type":"nominal","scale":{"domain":["Slow","Fast"],"range":[115,65]},"legend":null}}}
   ]
  }]
 }
]}
]
}
